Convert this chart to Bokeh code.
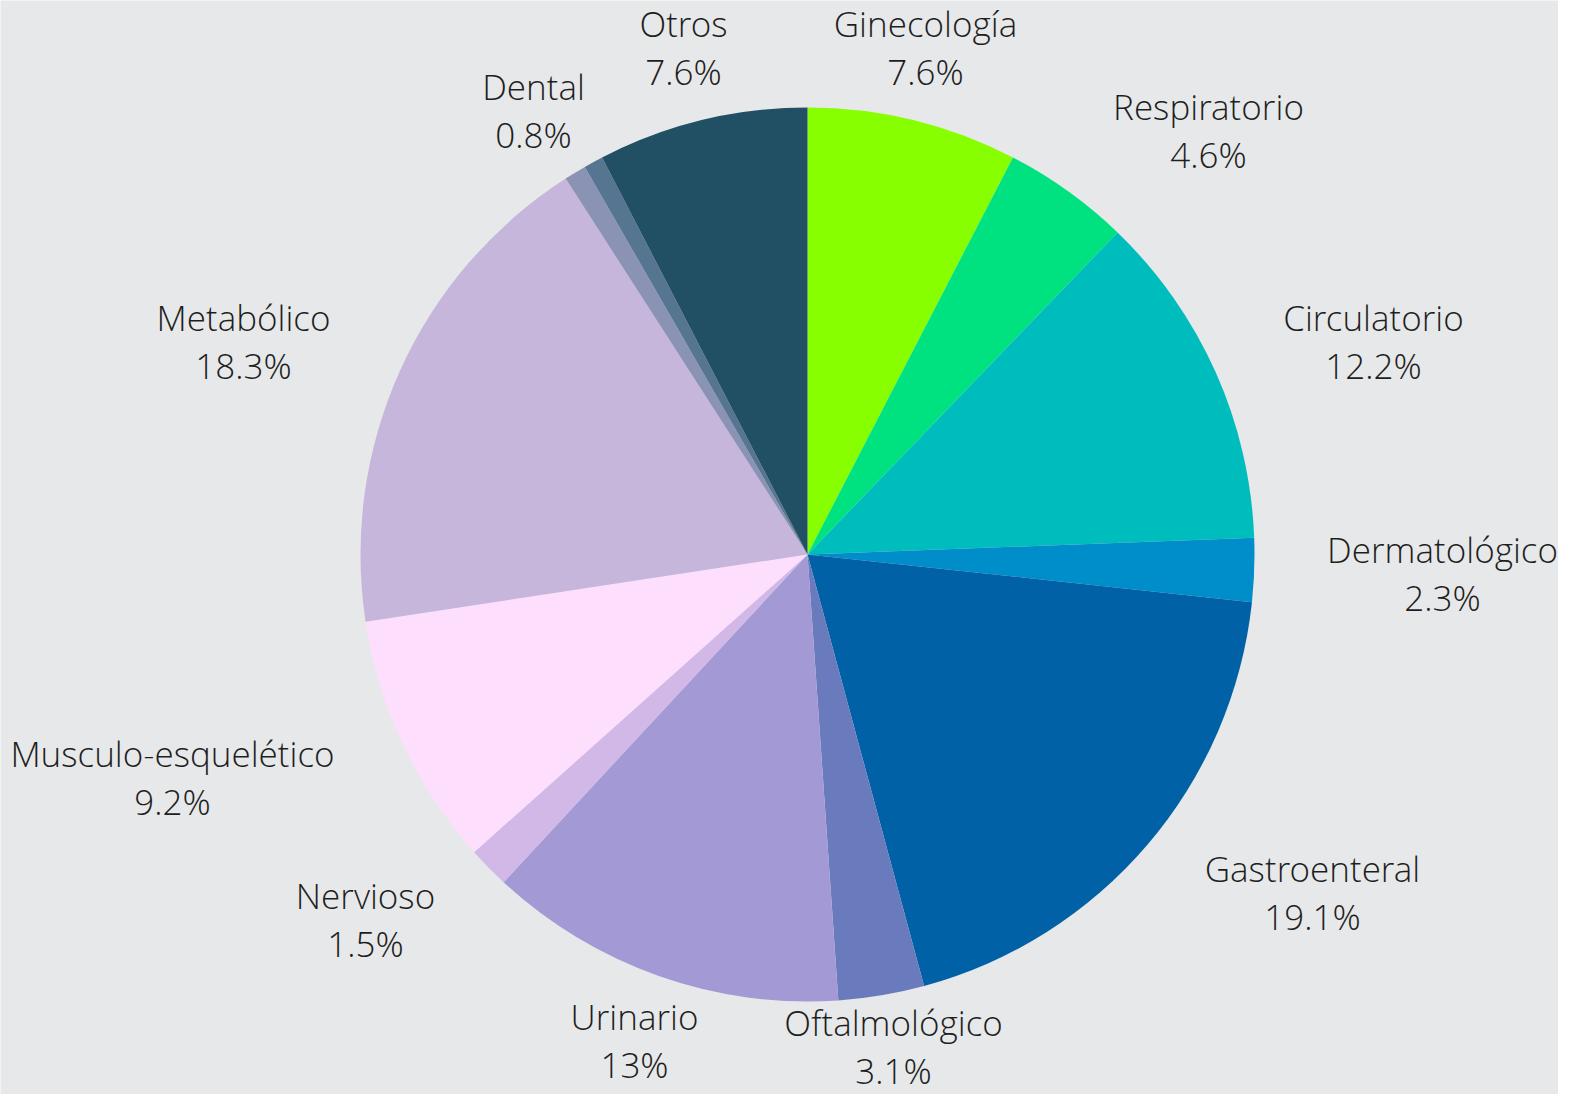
import math
from bokeh.plotting import figure
from bokeh.models import Range1d, ColumnDataSource
from bokeh.core.properties import value
from bokeh.embed import file_html
from bokeh.resources import INLINE

# ---- data ----
categories = ["Ginecología", "Respiratorio", "Circulatorio", "Dermatológico",
              "Gastroenteral", "Oftalmológico", "Urinario", "Nervioso",
              "Musculo-esquelético", "Metabólico", "Dental", "", "Otros"]
percentages = [7.6, 4.6, 12.2, 2.3, 19.1, 3.1, 13, 1.5, 9.2, 18.3, 0.8, 0.7, 7.6]
colors = ["#88ff00", "#00e27f", "#00bdbd", "#008ecb", "#0061a6", "#6a7bbd",
          "#a39ad5", "#d2b8e6", "#fddffd", "#c6b6dc", "#8b93b5", "#557590", "#214f63"]

# ---- layout (picture pixel coords) ----
W, H = 1558, 1094
CX, CY, R = 807, 554, 447
label_pos = {
    "Ginecología": (925, 23), "Respiratorio": (1208, 106), "Circulatorio": (1373, 317),
    "Dermatológico": (1442, 549), "Gastroenteral": (1312, 868), "Oftalmológico": (893, 1022),
    "Urinario": (634, 1016), "Nervioso": (365, 895), "Musculo-esquelético": (172, 753),
    "Metabólico": (243, 317), "Dental": (533, 86), "Otros": (683, 23),
}
LINE_GAP = 48

total = sum(percentages)
starts, ends = [], []
acc = 0.0
for v in percentages:
    a0 = math.pi / 2 - 2 * math.pi * acc / total
    acc += v
    a1 = math.pi / 2 - 2 * math.pi * acc / total
    starts.append(a0)
    ends.append(a1)

src = ColumnDataSource(dict(start=starts, end=ends, color=colors, cat=categories))

p = figure(width=W, height=H, output_backend="svg", toolbar_location=None,
           x_range=Range1d(0, W), y_range=Range1d(-H, 0),
           min_border=0)
p.axis.visible = False
p.grid.visible = False
p.outline_line_color = None
p.background_fill_color = "#e7e8e9"
p.border_fill_color = "#e7e8e9"

p.wedge(x=CX, y=-CY, radius=R, start_angle="start", end_angle="end",
        direction="clock", fill_color="color", line_color=None, source=src)

lx, ly1, ly2, names, pcts = [], [], [], [], []
for c, v in zip(categories, percentages):
    if c in label_pos:
        x, y = label_pos[c]
        lx.append(x); ly1.append(-y); ly2.append(-(y + LINE_GAP))
        names.append(c); pcts.append(f"{v:g}%")

font = value("Open Sans Light")
p.text(x=lx, y=ly1, text=names, text_align="center", text_baseline="middle",
       text_font=font, text_font_size="35px", text_color="#1e1e1e")
p.text(x=lx, y=ly2, text=pcts, text_align="center", text_baseline="middle",
       text_font=font, text_font_size="35px", text_color="#1e1e1e")

open("out.html", "w").write(file_html(p, INLINE))
